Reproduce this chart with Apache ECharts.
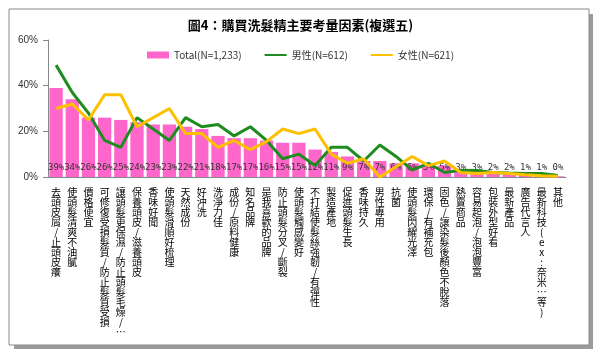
<!DOCTYPE html>
<html><head><meta charset="utf-8">
<script src="https://cdn.jsdelivr.net/npm/echarts@6/dist/echarts.min.js"></script>
<style>html,body{margin:0;padding:0;background:#fff;}#c{width:601px;height:355px;}</style>
</head><body><div id="c"></div>
<script>
const categories = ["去頭皮屑/止頭皮癢","使頭髮清爽不油膩","價格便宜","可修復受損髮質/防止髮質受損","讓頭髮更保濕/防止頭髮毛燥/…","保養頭皮/滋養頭皮","香味好聞","使頭髮滑順好梳理","天然成份","好沖洗","洗淨力佳","成份/原料健康","知名品牌","是我喜歡的品牌","防止頭髮分叉/斷裂","使頭髮觸感變好","不打結使髮絲強韌/有彈性","製造產地","促進頭髮生長","香味持久","男性專用","抗菌","使頭髮閃耀光澤","環保/有補充包","固色/讓染髮後顏色不脫落","熱賣商品","容易起泡/泡泡豐富","包裝外型好看","最新產品","廣告代言人","最新科技(ex:奈米…等)","其他"];
const totalVals = [39,34,26,26,25,24,23,23,22,21,18,17,17,16,15,15,12,11,9,7,7,6,6,5,5,3,3,2,2,1,1,0.3];
const maleVals = [49,37,28,16,13,26,21,16,26,22,23,18,22,16,8,10,5,13,13,7,14,9,3,6,2,3,2.8,2,1.7,1.5,1.5,0.7];
const femaleVals = [30,32,25,36,36,22,26,30,19,19,13,16,12,15.5,21,19,21,10,6,8,0,4.5,9,5,7,2,1.5,2,1.5,1,0.6,0.3];
const yTicks = [0,20,40,60];

const chart = echarts.init(document.getElementById('c'));
chart.setOption({
  animation:false,
  backgroundColor:'#fff',
  graphic:[
    {type:'rect',shape:{x:14,y:14,width:579,height:335},style:{fill:'#9a9a9a'},z:-10},
    {type:'rect',shape:{x:9,y:9,width:580,height:336},style:{fill:'#fff',stroke:'#8a8a8a',lineWidth:1},z:-9}
  ],
  title:{text:'圖4：購買洗髮精主要考量因素(複選五)',left:'center',top:14,
    textStyle:{fontSize:13,fontWeight:'bold',color:'#000',fontFamily:'Noto Sans CJK TC'}},
  legend:{top:45,left:'center',itemGap:22,itemWidth:22,itemHeight:7,
    textStyle:{fontSize:10,color:'#333',fontFamily:'Noto Sans CJK TC'},
    data:[{name:'Total(N=1,233)',icon:'rect'},
      {name:'男性(N=612)',itemStyle:{opacity:0}},
      {name:'女性(N=621)',itemStyle:{opacity:0}}]},
  grid:{left:48,right:35,top:40,bottom:178},
  xAxis:{type:'category',data:categories,
    axisLine:{lineStyle:{color:'#888'}},
    axisTick:{length:5,lineStyle:{color:'#888'}},
    axisLabel:{interval:0,margin:10,fontSize:10,lineHeight:10,color:'#000',
      fontFamily:'Noto Sans CJK TC',verticalAlign:'top',
      formatter:v=>Array.from(v).join('\n')}},
  yAxis:{type:'value',min:0,max:60,interval:20,
    splitLine:{show:false},
    axisLine:{show:true,lineStyle:{color:'#888'}},
    axisTick:{show:true,length:5,lineStyle:{color:'#888'}},
    axisLabel:{formatter:v=>yTicks.includes(v)?v+'%':'',fontSize:10,color:'#333',margin:10}},
  series:[
    {name:'Total(N=1,233)',type:'bar',data:totalVals,barCategoryGap:'18%',
      itemStyle:{color:'#FF66CC'},
      label:{show:true,position:'insideBottom',distance:5,fontSize:9,color:'#333',
        fontFamily:'DejaVu Sans Mono',formatter:p=>Math.round(p.value)+'%'}},
    {name:'男性(N=612)',type:'line',data:maleVals,symbol:'none',
      lineStyle:{color:'#1E8C1E',width:3},itemStyle:{color:'#1E8C1E'},z:3},
    {name:'女性(N=621)',type:'line',data:femaleVals,symbol:'none',
      lineStyle:{color:'#FFC000',width:3},itemStyle:{color:'#FFC000'},z:4}
  ]
});
</script></body></html>
